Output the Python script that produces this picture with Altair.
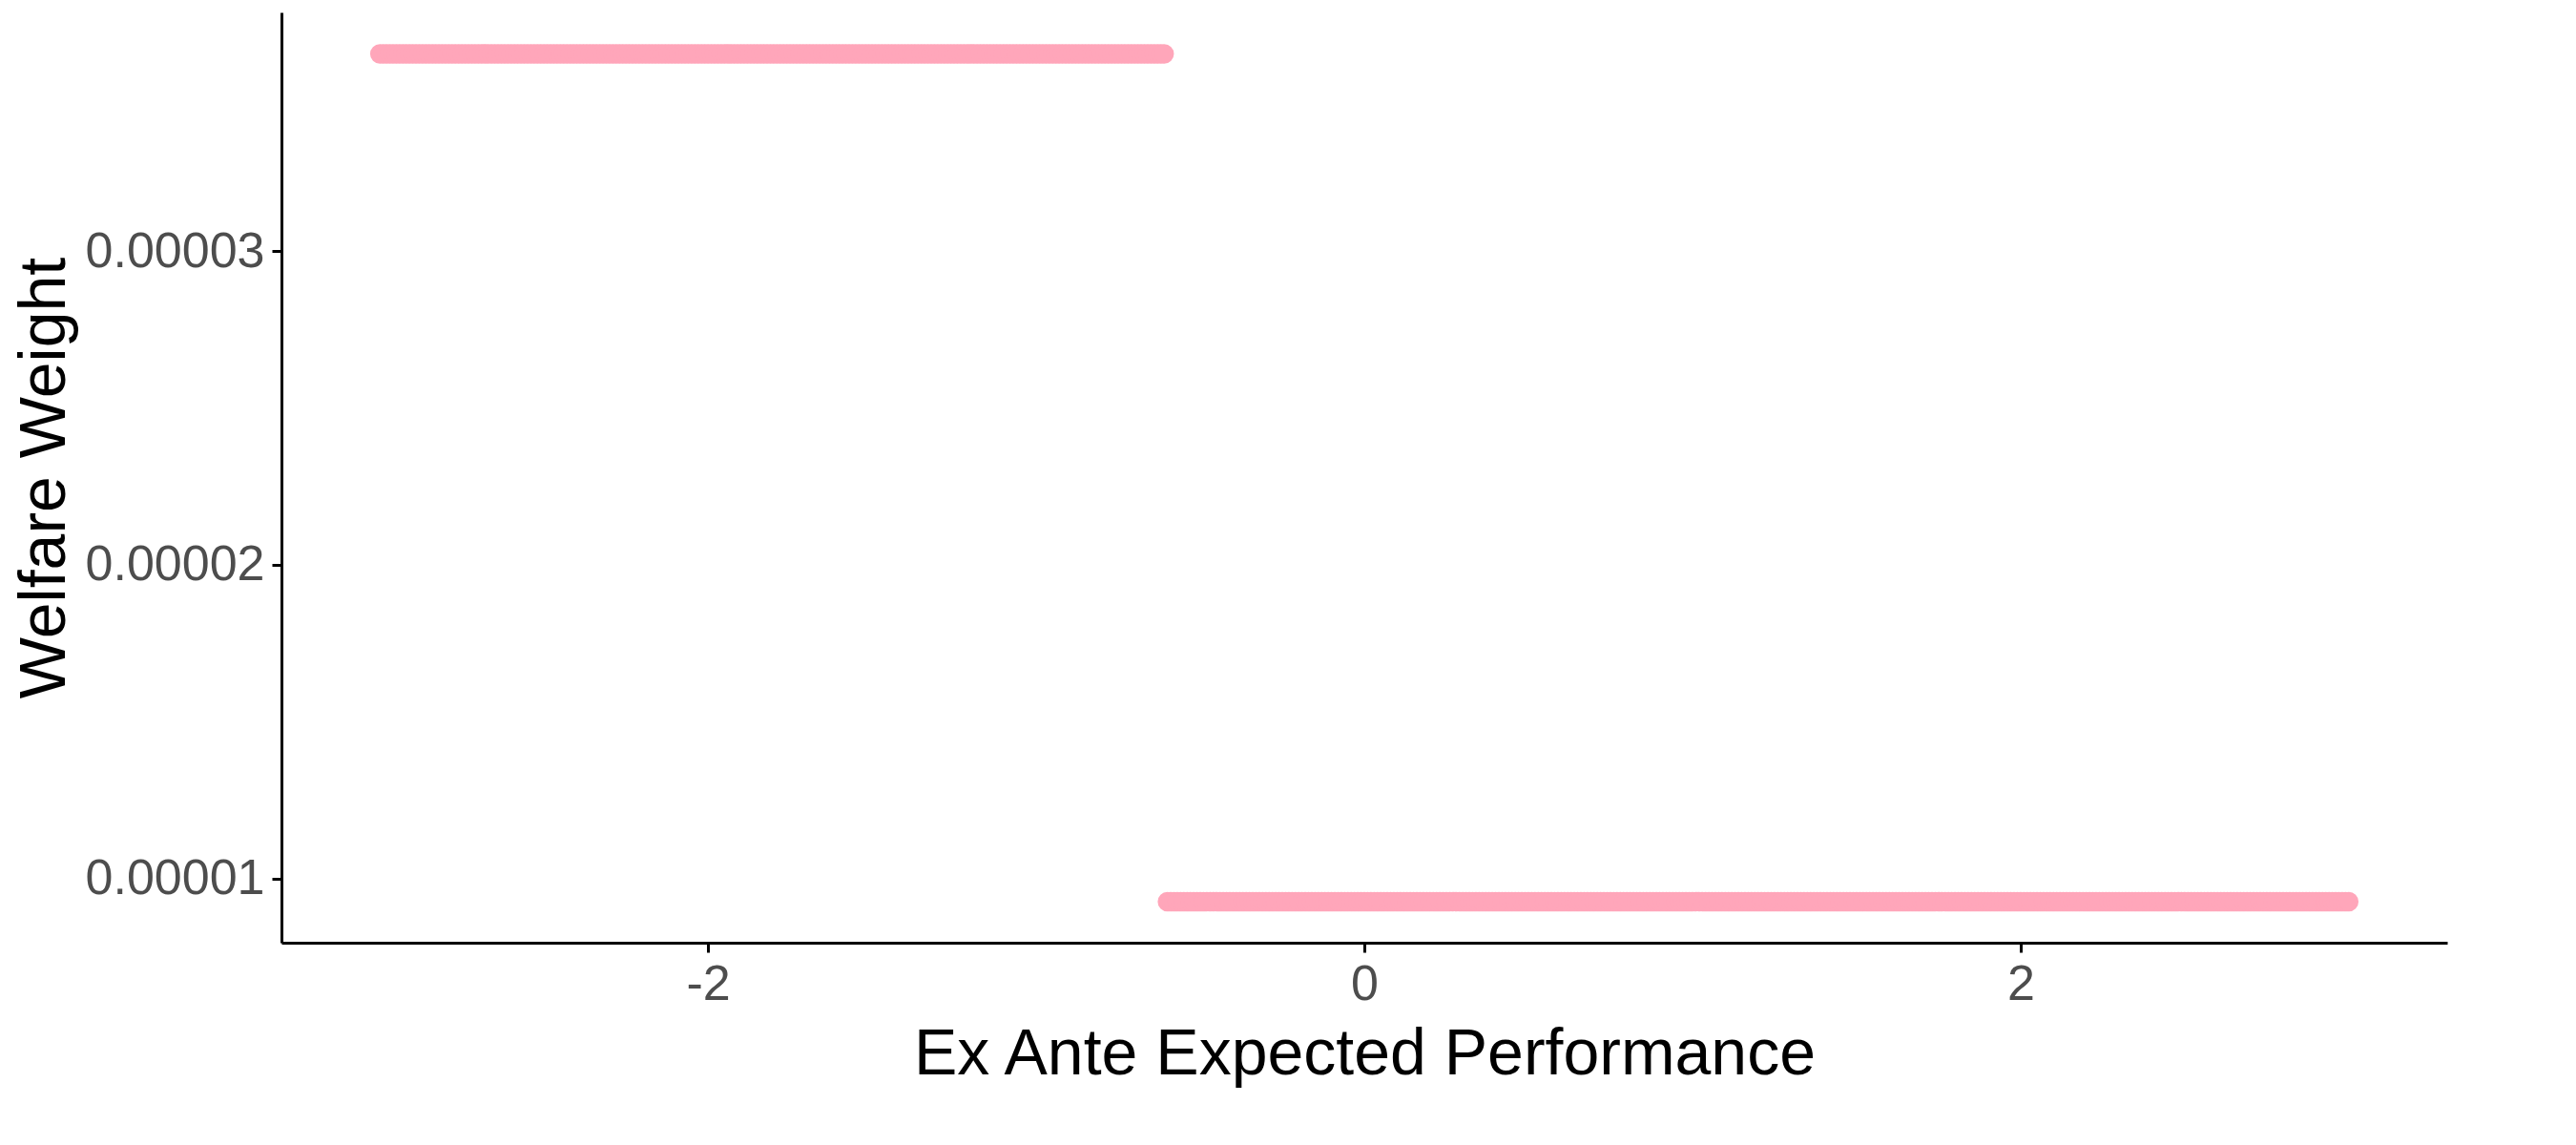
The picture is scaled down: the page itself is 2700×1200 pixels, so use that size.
import altair as alt
import numpy as np
import pandas as pd

# ex ante expected performance grid and the two welfare weight levels
x_vals = np.round(np.arange(-3.0, 3.0001, 0.01), 2)
cutoff = -0.6
high_weight = 0.00003628
low_weight = 0.00000927

df = pd.DataFrame({
    "perf": x_vals,
    "weight": np.where(x_vals < cutoff, high_weight, low_weight),
})

chart = alt.Chart(df).mark_circle(color="#FFA6BA", opacity=1, size=420).encode(
    x=alt.X("perf:Q", title="Ex Ante Expected Performance",
            scale=alt.Scale(domain=[-3.3, 3.3], nice=False, zero=False),
            axis=alt.Axis(values=[-2, 0, 2], grid=False, labelExpr="'' + datum.value")),
    y=alt.Y("weight:Q", title="Welfare Weight",
            scale=alt.Scale(domain=[0.00000796, 0.0000376], nice=False, zero=False),
            axis=alt.Axis(values=[0.00001, 0.00002, 0.00003], format=".5f", grid=False,
                          labelLimit=0)),
).properties(width=2270, height=975).configure_axis(
    domainColor="black", domainWidth=3, tickColor="black", tickWidth=3, tickSize=10,
    labelFont="Liberation Sans", labelFontSize=52, labelColor="#4d4d4d", labelPadding=8,
    titleFont="Liberation Sans", titleFontSize=68, titleFontWeight="normal", titleColor="black",
    titlePadding=14,
).configure_view(strokeWidth=0)

chart.save("out.html", embed_options={"renderer": "svg", "actions": False})
